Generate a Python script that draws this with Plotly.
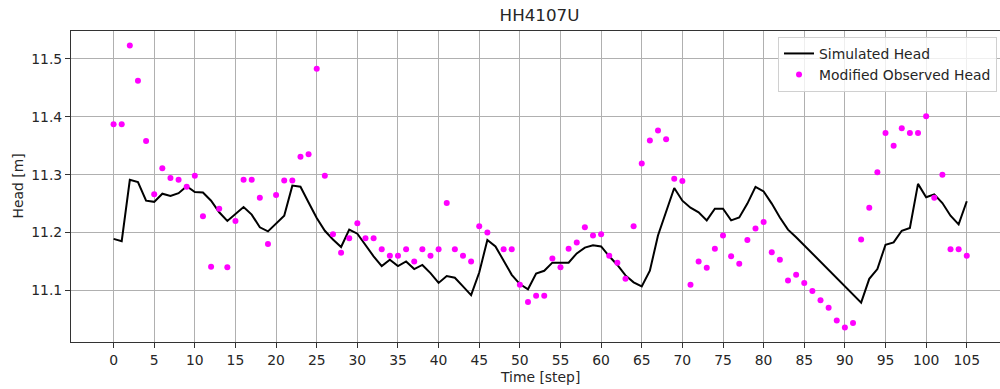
import plotly.graph_objects as go

steps = list(range(106))

simulated_head = [
    11.189, 11.185, 11.291, 11.287, 11.255, 11.253, 11.267, 11.263, 11.268, 11.280,
    11.270, 11.269, 11.255, 11.235, 11.220, 11.232, 11.244, 11.231, 11.209, 11.202,
    11.216, 11.229, 11.281, 11.279, 11.252, 11.225, 11.203, 11.188, 11.175, 11.205,
    11.198, 11.178, 11.159, 11.142, 11.153, 11.142, 11.150, 11.137, 11.144, 11.130,
    11.113, 11.125, 11.122, 11.107, 11.092, 11.131, 11.187, 11.176, 11.152, 11.127,
    11.111, 11.102, 11.129, 11.134, 11.148, 11.148, 11.148, 11.164, 11.174, 11.178,
    11.176, 11.159, 11.144, 11.126, 11.114, 11.107, 11.134, 11.195, 11.238, 11.277,
    11.255, 11.243, 11.235, 11.221, 11.241, 11.241, 11.221, 11.226, 11.250, 11.279,
    11.271, 11.250, 11.226, 11.205, 11.192, 11.178, 11.164, 11.150, 11.136, 11.121,
    11.107, 11.094, 11.079, 11.120, 11.137, 11.179, 11.183, 11.203, 11.208, 11.284,
    11.261, 11.266, 11.251, 11.229, 11.214, 11.254,
]

observed_head = [
    11.387, 11.387, 11.523, 11.462, 11.358, 11.266, 11.311, 11.294, 11.291, 11.279,
    11.298, 11.228, 11.141, 11.241, 11.140, 11.220, 11.291, 11.291, 11.260, 11.180,
    11.265, 11.290, 11.290, 11.331, 11.335, 11.483, 11.298, 11.197, 11.165, 11.190,
    11.216, 11.190, 11.190, 11.171, 11.160, 11.160, 11.171, 11.150, 11.171, 11.160,
    11.171, 11.251, 11.171, 11.160, 11.150, 11.211, 11.200, None, 11.171, 11.171,
    11.110, 11.080, 11.091, 11.091, 11.155, 11.140, 11.172, 11.183, 11.209, 11.195,
    11.197, 11.160, 11.148, 11.120, 11.211, 11.319, 11.359, 11.376, 11.361, 11.293,
    11.289, 11.110, 11.150, 11.139, 11.172, 11.195, 11.159, 11.146, 11.187, 11.207,
    11.218, 11.166, 11.153, 11.117, 11.127, 11.113, 11.099, 11.083, 11.070, 11.048,
    11.036, 11.044, 11.188, 11.243, 11.304, 11.372, 11.350, 11.380, 11.372, 11.372,
    11.401, 11.260, 11.300, 11.171, 11.171, 11.160,
]

x_ticks = list(range(0, 106, 5))
y_ticks = [11.1, 11.2, 11.3, 11.4, 11.5]

FONT = "DejaVu Sans"

fig = go.Figure()
fig.add_trace(go.Scatter(
    x=steps, y=simulated_head, mode="lines", name="Simulated Head",
    line=dict(color="black", width=2),
))
fig.add_trace(go.Scatter(
    x=steps, y=observed_head, mode="markers", name="Modified Observed Head",
    marker=dict(color="#ff00ff", size=6, line=dict(width=0)),
))

fig.update_layout(
    width=1000, height=389,
    margin=dict(l=71, r=0, t=31, b=47),
    paper_bgcolor="white", plot_bgcolor="white",
    font=dict(family=FONT, size=13.9, color="#262626"),
    title=dict(text="HH4107U", font=dict(family=FONT, size=16.7, color="#262626"),
               xref="container", x=0.5395, xanchor="center",
               yref="container", y=1 - 15 / 389, yanchor="middle"),
    showlegend=True,
    legend=dict(x=0.9968, xanchor="right", y=0.981, yanchor="top",
                bgcolor="rgba(255,255,255,0.8)", bordercolor="#d0d0d0", borderwidth=1,
                font=dict(family=FONT, size=13.9, color="#262626")),
)

fig.update_xaxes(
    range=[-5.24, 109.09], tickmode="array", tickvals=x_ticks,
    ticks="outside", ticklen=5, tickwidth=1, tickcolor="#333333",
    showgrid=True, gridcolor="#b0b0b0", gridwidth=1,
    showline=True, linecolor="#333333", linewidth=1, mirror=True,
    zeroline=False, tickfont=dict(size=13.9),
)
fig.update_yaxes(
    range=[11.011, 11.548], tickmode="array", tickvals=y_ticks,
    ticktext=[f"{v:.1f}" for v in y_ticks],
    ticks="outside", ticklen=5, tickwidth=1, tickcolor="#333333",
    showgrid=True, gridcolor="#b0b0b0", gridwidth=1,
    showline=True, linecolor="#333333", linewidth=1, mirror=False,
    zeroline=False, tickfont=dict(size=13.9),
)

fig.add_annotation(text="Time [step]", xref="paper", yref="paper",
                   x=(539.5 - 71) / 929, y=-(377 - 342) / 311,
                   xanchor="center", yanchor="middle", showarrow=False,
                   font=dict(family=FONT, size=13.9, color="#262626"))
fig.add_annotation(text="Head [m]", xref="paper", yref="paper",
                   x=-(71 - 17) / 929, y=0.5, textangle=-90,
                   xanchor="center", yanchor="middle", showarrow=False,
                   font=dict(family=FONT, size=13.9, color="#262626"))

fig.write_html("out.html")
